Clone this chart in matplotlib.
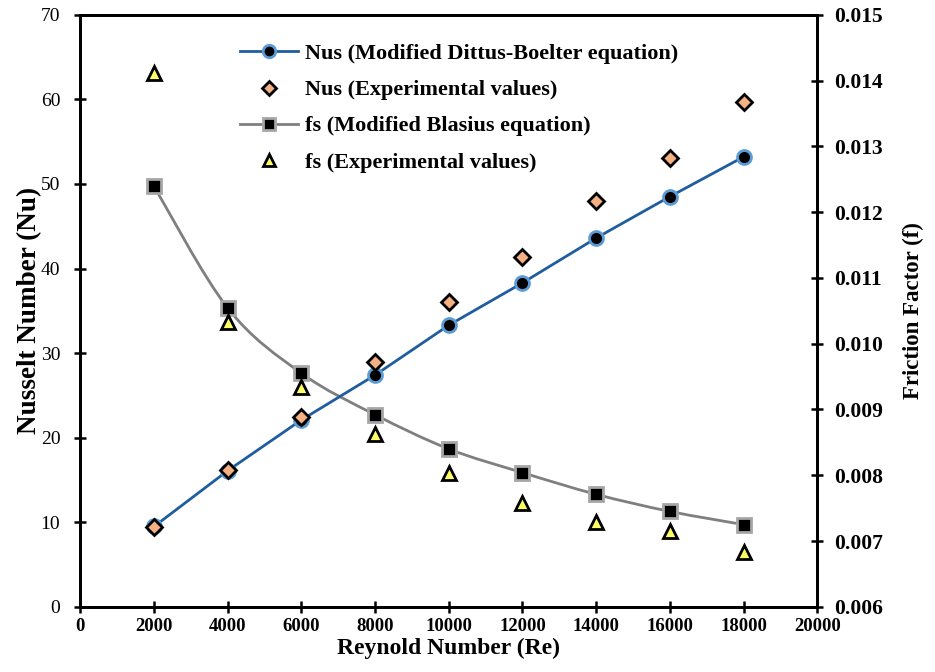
import numpy as np
import matplotlib.pyplot as plt
from matplotlib.path import Path
from matplotlib.patches import PathPatch

# -----------------------------
# Data
# -----------------------------

re = [2000, 4000, 6000, 8000, 10000, 12000, 14000, 16000, 18000]

nu_model = [9.5, 16.1, 22.1, 27.4, 33.3, 38.3, 43.6, 48.5, 53.2]
nu_exp = [9.4, 16.2, 22.5, 28.9, 36.0, 41.4, 48.0, 53.1, 59.7]

f_model = [0.01239, 0.01054, 0.00955, 0.00892, 0.00840, 0.00804, 0.00771, 0.00745, 0.00725]
f_exp = [0.01412, 0.01033, 0.00934, 0.00862, 0.00804, 0.00758, 0.00729, 0.00715, 0.00683]

x_ticks = [0, 2000, 4000, 6000, 8000, 10000, 12000, 14000, 16000, 18000, 20000]
nu_ticks = [0, 10, 20, 30, 40, 50, 60, 70]
f_ticks = [0.006, 0.007, 0.008, 0.009, 0.010, 0.011, 0.012, 0.013, 0.014, 0.015]

plt.rcParams["font.family"] = ["Liberation Serif", "DejaVu Serif"]
plt.rcParams["font.weight"] = "bold"


def smooth_path(xs, ys):
    # Catmull-Rom style smoothing (like a spreadsheet "smoothed line")
    xs = np.asarray(xs, float)
    ys = np.asarray(ys, float)
    verts = [(xs[0], ys[0])]
    codes = [Path.MOVETO]
    n = len(xs)
    for i in range(n - 1):
        p0 = (xs[max(i - 1, 0)], ys[max(i - 1, 0)])
        p1 = (xs[i], ys[i])
        p2 = (xs[i + 1], ys[i + 1])
        p3 = (xs[min(i + 2, n - 1)], ys[min(i + 2, n - 1)])
        c1 = (p1[0] + (p2[0] - p0[0]) / 6, p1[1] + (p2[1] - p0[1]) / 6)
        c2 = (p2[0] - (p3[0] - p1[0]) / 6, p2[1] - (p3[1] - p1[1]) / 6)
        verts += [c1, c2, p2]
        codes += [Path.CURVE4] * 3
    return Path(verts, codes)


# -----------------------------
# Plot
# -----------------------------

fig = plt.figure(figsize=(9.35, 6.72), dpi=100)
ax = fig.add_axes([0.086, 0.097, 0.788, 0.881])
ax2 = ax.twinx()

blue = "#1f5d9e"
gray = "#7f7f7f"

# friction factor (right axis)
ax2.add_patch(PathPatch(smooth_path(re, f_model), facecolor="none",
                        edgecolor=gray, linewidth=2, zorder=2))
ax2.plot(re, f_model, linestyle="none", marker="s", markersize=10,
         markerfacecolor="black", markeredgecolor="#a6a6a6",
         markeredgewidth=2, zorder=3)
ax2.plot(re, f_exp, linestyle="none", marker="^", markersize=10,
         markerfacecolor="#ffff66", markeredgecolor="black",
         markeredgewidth=2, zorder=3)

# Nusselt number (left axis), drawn on top
ax.set_zorder(ax2.get_zorder() + 1)
ax.patch.set_visible(False)
ax.plot(re, nu_model, color=blue, linewidth=2, marker="o", markersize=10,
        markerfacecolor="black", markeredgecolor="#5b9bd5",
        markeredgewidth=2, zorder=3)
ax.plot(re, nu_exp, linestyle="none", marker="D", markersize=8,
        markerfacecolor="#f4b183", markeredgecolor="black",
        markeredgewidth=2, zorder=3)

ax.set_xlim(0, 20000)
ax.set_ylim(0, 70)
ax2.set_ylim(0.006, 0.015)

ax.set_xticks(x_ticks)
ax.set_yticks(nu_ticks)
ax2.set_yticks(f_ticks)
ax2.set_yticklabels([f"{v:.3f}" for v in f_ticks])

for a in (ax, ax2):
    a.tick_params(direction="inout", length=9, width=1.8)
    for s in a.spines.values():
        s.set_linewidth(2)

ax.tick_params(axis="x", labelsize=13.5)
ax.tick_params(axis="y", labelsize=14, pad=10)
for lbl in ax.get_yticklabels():
    lbl.set_fontweight("normal")
ax2.tick_params(axis="y", labelsize=15.5, pad=8)

ax.set_xlabel("Reynold Number (Re)", fontsize=17, fontweight="bold", labelpad=2)
ax.set_ylabel("Nusselt Number (Nu)", fontsize=19.5, fontweight="bold", labelpad=-1)
ax2.set_ylabel("Friction Factor (f)", fontsize=16.5, fontweight="bold", labelpad=14)

# legend
h1 = plt.Line2D([], [], color=blue, linewidth=2, marker="o", markersize=9,
                markerfacecolor="black", markeredgecolor="#5b9bd5", markeredgewidth=2)
h2 = plt.Line2D([], [], linestyle="none", marker="D", markersize=7,
                markerfacecolor="#f4b183", markeredgecolor="black", markeredgewidth=2)
h3 = plt.Line2D([], [], color=gray, linewidth=2, marker="s", markersize=9,
                markerfacecolor="black", markeredgecolor="#a6a6a6", markeredgewidth=2)
h4 = plt.Line2D([], [], linestyle="none", marker="^", markersize=9,
                markerfacecolor="#ffff66", markeredgecolor="black", markeredgewidth=2)
ax.legend([h1, h2, h3, h4],
          ["Nus (Modified Dittus-Boelter equation)", "Nus (Experimental values)",
           "fs (Modified Blasius equation)", "fs (Experimental values)"],
          loc="upper left", bbox_to_anchor=(0.19, 0.985), frameon=False,
          fontsize=16, handlelength=2.6, handletextpad=0.3, labelspacing=0.7)

plt.savefig("out.png", dpi=100)
